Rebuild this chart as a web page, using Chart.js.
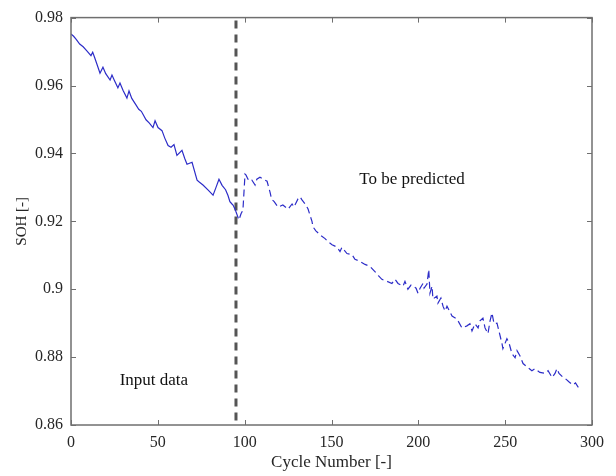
<!DOCTYPE html>
<html>
<head>
<meta charset="utf-8">
<script src="https://cdn.jsdelivr.net/npm/chart.js@4.4.1/dist/chart.umd.min.js"></script>
<style>
html,body{margin:0;padding:0;background:#fff;}
#wrap{width:616px;height:476px;}
</style>
</head>
<body>
<div id="wrap"><canvas id="c" width="616" height="476"></canvas></div>
<script>
// ---- data ----
const inputCycles = [0,1.5,3,5,7,9,11.5,12.5,13.5,15,16.7,18.4,20,22.5,23.6,25,27,28.2,30,32.2,33.4,35,37.4,39,40.5,42,43.2,45,47.2,48.4,50.1,52.4,54,55.9,57.6,59.3,61,63.9,65.5,66.8,69.7,72.6,74,76,79,81.8,83.5,85.2,87,89,90.4,91.5,92.7,93.3,94.4,95];
const inputSOH = [0.9752,0.9745,0.9736,0.9722,0.9714,0.9703,0.9688,0.9698,0.9684,0.9662,0.9636,0.9654,0.9635,0.9616,0.9631,0.9615,0.9593,0.9607,0.9585,0.9563,0.9584,0.9562,0.9543,0.9530,0.9524,0.9510,0.9499,0.9490,0.9476,0.9496,0.9476,0.9467,0.9445,0.9423,0.9418,0.9426,0.9394,0.9409,0.9385,0.9368,0.9374,0.9321,0.9315,0.9307,0.9292,0.9277,0.9300,0.9324,0.9306,0.9293,0.9276,0.9258,0.9251,0.9248,0.9236,0.9228];

const predCycles = [95,96.7,97.9,99,100.2,100.8,101.9,103,104.2,106,107,108.8,110.6,112.9,114.6,115.5,117,119.2,122,125,127.3,128.4,130.7,131.9,133,135.3,136.5,138.8,139.3,141,143.4,146.3,148,150.3,152,153.7,154.9,156,158.9,161.8,163.5,166.4,169.3,172.2,175,177,179,182,184.8,186.6,188.3,191.2,192.3,194,195.8,197,198.7,199.8,201,202.7,203.3,205,206,206.3,206.7,207.9,208.4,210.7,211.3,213,214.2,215.4,216.5,219.4,222.3,225.1,228,229.7,230.9,232.6,234.4,235.5,237.2,238.4,240.1,241.3,242.4,243.6,245.3,246.4,248.2,248.7,251,252.2,253.9,255.7,256.8,258.5,260.3,263.1,265.4,267.2,270,272.9,274.7,277,278.7,279.8,281,283,285,287,289,290.5,292,294];
const predSOH = [0.9228,0.9204,0.9222,0.9233,0.9339,0.9336,0.9324,0.9318,0.9321,0.9307,0.9324,0.9330,0.9324,0.9318,0.9286,0.9265,0.9258,0.9242,0.9248,0.9236,0.9251,0.9242,0.9266,0.9272,0.9263,0.9248,0.9236,0.9199,0.9184,0.9172,0.9160,0.9149,0.9140,0.9131,0.9127,0.9120,0.9111,0.9123,0.9105,0.9102,0.9088,0.9082,0.9073,0.9067,0.9052,0.9040,0.9029,0.9023,0.9017,0.9029,0.9017,0.9009,0.9023,0.9000,0.9012,0.9009,0.9003,0.8988,0.9003,0.9017,0.9003,0.9015,0.9058,0.9029,0.8988,0.9009,0.8971,0.8980,0.8959,0.8974,0.8950,0.8936,0.8950,0.8921,0.8912,0.8886,0.8892,0.8898,0.8877,0.8898,0.8886,0.8907,0.8915,0.8886,0.8869,0.8907,0.8930,0.8898,0.8900,0.8877,0.8839,0.8825,0.8854,0.8842,0.8810,0.8798,0.8819,0.8804,0.8781,0.8769,0.8760,0.8766,0.8755,0.8752,0.8760,0.8740,0.8752,0.8766,0.8752,0.8742,0.8735,0.8726,0.8718,0.8724,0.8712,0.8705];

const splitCycle = 95;
const xTicks = [0,50,100,150,200,250,300];
const xTickLabels = ['0','50','100','150','200','250','300'];
const yTicks = [0.86,0.88,0.90,0.92,0.94,0.96,0.98];
const yTickLabels = ['0.86','0.88','0.9','0.92','0.94','0.96','0.98'];
const notes = [
  {text:'To be predicted', x:166, y:0.9322},
  {text:'Input data', x:28, y:0.8731}
];

// ---- drawing ----
const FONT = '"Liberation Serif","Times New Roman",serif';
const TXT = '#262626';
const AXC = '#6f6f6f';

const toXY = (xs, ys) => xs.map((x, i) => ({x: x, y: ys[i]}));

const framePlugin = {
  id: 'frame',
  beforeDatasetsDraw(chart) {
    const {ctx, chartArea: a, scales: {x}} = chart;
    const px = x.getPixelForValue(splitCycle);
    ctx.save();
    ctx.strokeStyle = '#555555';
    ctx.lineWidth = 3;
    ctx.setLineDash([8, 6]);
    ctx.beginPath();
    ctx.moveTo(px, a.top + 3);
    ctx.lineTo(px, a.bottom);
    ctx.stroke();
    ctx.restore();
  },
  afterDatasetsDraw(chart) {
    const {ctx, chartArea: a, scales: {x, y}} = chart;
    ctx.save();
    // annotations
    ctx.fillStyle = '#111';
    ctx.font = '17px ' + FONT;
    ctx.textAlign = 'left';
    ctx.textBaseline = 'middle';
    notes.forEach(n => ctx.fillText(n.text, x.getPixelForValue(n.x), y.getPixelForValue(n.y)));
    // box
    ctx.strokeStyle = AXC;
    ctx.lineWidth = 1.5;
    ctx.strokeRect(a.left, a.top, a.right - a.left, a.bottom - a.top);
    // inward ticks
    const L = 5;
    ctx.beginPath();
    xTicks.forEach(v => {
      const p = Math.round(x.getPixelForValue(v)) + 0.5;
      ctx.moveTo(p, a.bottom); ctx.lineTo(p, a.bottom - L);
      ctx.moveTo(p, a.top); ctx.lineTo(p, a.top + L);
    });
    yTicks.forEach(v => {
      const p = Math.round(y.getPixelForValue(v)) + 0.5;
      ctx.moveTo(a.left, p); ctx.lineTo(a.left + L, p);
      ctx.moveTo(a.right, p); ctx.lineTo(a.right - L, p);
    });
    ctx.lineWidth = 1;
    ctx.stroke();
    ctx.restore();
  }
};

new Chart(document.getElementById('c'), {
  type: 'line',
  data: {
    datasets: [
      {
        label: 'Input data',
        data: toXY(inputCycles, inputSOH),
        borderColor: 'rgb(45,45,200)',
        borderWidth: 1.2,
        pointRadius: 0,
        tension: 0,
        fill: false
      },
      {
        label: 'To be predicted',
        data: toXY(predCycles, predSOH),
        borderColor: 'rgb(45,45,200)',
        borderWidth: 1.2,
        borderDash: [7, 4],
        pointRadius: 0,
        tension: 0,
        fill: false
      }
    ]
  },
  options: {
    responsive: false,
    animation: false,
    layout: {padding: {top: 14, right: 24, left: 0, bottom: 0}},
    plugins: {legend: {display: false}, tooltip: {enabled: false}},
    scales: {
      x: {
        type: 'linear', min: 0, max: 300,
        afterBuildTicks: s => { s.ticks = xTicks.map(v => ({value: v})); },
        afterFit: s => { s.height = 51; },
        ticks: {
          callback: (v) => xTickLabels[xTicks.indexOf(v)],
          color: TXT, font: {family: FONT, size: 16}, padding: 8, maxRotation: 0, autoSkip: false
        },
        grid: {display: false, drawTicks: false},
        border: {display: false},
        title: {display: true, text: 'Cycle Number [-]', color: TXT, font: {family: FONT, size: 17}, padding: {top: 0, bottom: 3}}
      },
      y: {
        type: 'linear', min: 0.86, max: 0.98,
        afterBuildTicks: s => { s.ticks = yTicks.map(v => ({value: v})); },
        afterFit: s => { s.width = 71; },
        ticks: {
          callback: (v) => { const i = yTicks.findIndex(t => Math.abs(t - v) < 1e-9); return i >= 0 ? yTickLabels[i] : ''; },
          color: TXT, font: {family: FONT, size: 16}, padding: 8, autoSkip: false
        },
        grid: {display: false, drawTicks: false},
        border: {display: false},
        title: {display: true, text: 'SOH [-]', color: TXT, font: {family: FONT, size: 15}, padding: {top: 13, bottom: 0}}
      }
    }
  },
  plugins: [framePlugin]
});
</script>
</body>
</html>
